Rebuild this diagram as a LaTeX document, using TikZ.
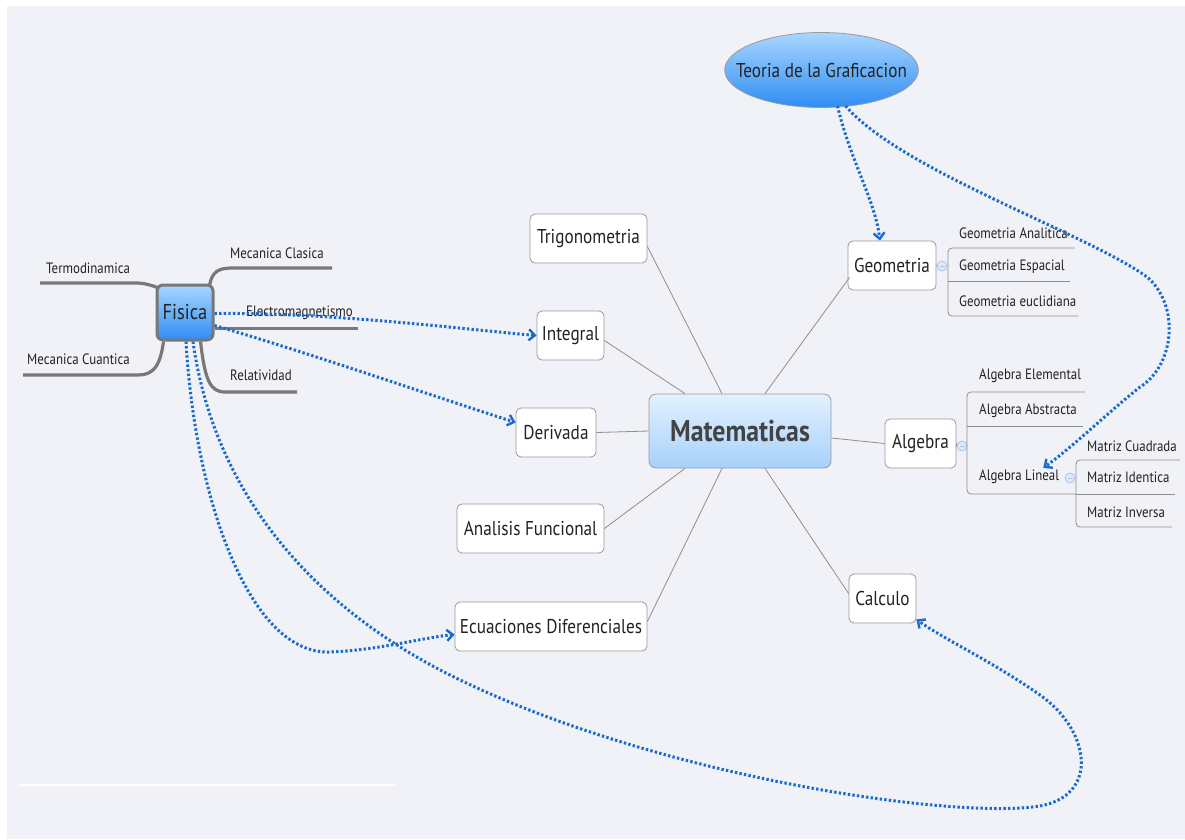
\documentclass[tikz,border=0pt]{standalone}
\usepackage{fontspec}
\setmainfont{PT Sans}[FakeStretch=0.86]
\usetikzlibrary{arrows.meta,calc,shapes.geometric}
\definecolor{bg}{HTML}{F1F2F7}
\definecolor{boxline}{HTML}{9A9A9A}
\definecolor{txt}{HTML}{222222}
\definecolor{linegray}{HTML}{8E8E8E}
\definecolor{branchgray}{HTML}{787878}
\definecolor{relblue}{HTML}{1A6BCE}
\definecolor{togline}{HTML}{A8C4EA}
\definecolor{togfill}{HTML}{DCE9FA}
\definecolor{mattop}{HTML}{E3F1FF}
\definecolor{matbot}{HTML}{A6D1FB}
\definecolor{blutop}{HTML}{A9D6FF}
\definecolor{blubot}{HTML}{2F8DF2}
\tikzset{
  box/.style={draw=boxline, fill=white, rounded corners=5pt, line width=0.8pt,
    font=\fontsize{20}{23}\selectfont, text=txt, inner sep=0pt, minimum height=49pt},
  mainbox/.style={draw=boxline, rounded corners=7pt, line width=0.8pt, top color=mattop, bottom color=matbot,
    font=\bfseries\fontsize{30}{34}\selectfont, text=txt!85, inner sep=0pt, minimum width=182pt, minimum height=74pt},
  fisbox/.style={draw=branchgray, rounded corners=6pt, line width=3pt, top color=blutop, bottom color=blubot,
    font=\fontsize{21.5}{24}\selectfont, text=txt, inner sep=0pt, minimum width=56pt, minimum height=55pt},
  teobox/.style={ellipse, draw=boxline, line width=0.8pt, top color=blutop, bottom color=blubot,
    font=\fontsize{20}{23}\selectfont, text=txt, inner xsep=-17pt, inner ysep=14pt, minimum width=193pt, minimum height=75pt},
  sub/.style={font=\fontsize{15}{18}\selectfont, text=txt, inner sep=0pt, anchor=west},
  gline/.style={draw=linegray, line width=0.8pt},
  bline/.style={draw=linegray, line width=0.8pt, rounded corners=4pt},
  branch/.style={draw=branchgray, line width=3.2pt},
  rel/.style={draw=relblue, line width=3pt, dash pattern=on 2.4pt off 2.2pt,
    -{Straight Barb[length=6pt,width=11pt,line width=2.4pt]}},
  tog/.style={circle, draw=togline, fill=togfill, minimum size=10pt, inner sep=0pt, line width=0.8pt}
}
\begin{document}
\begin{tikzpicture}[x=1pt,y=-1pt]
\fill[white] (0,0) rectangle (1185,839);
\fill[bg] (7,6) rectangle (1185,839);
\useasboundingbox (0,0) rectangle (1185,839);
\draw[white, line width=1.5pt] (20,785) -- (395,785);

% nodes
\node[mainbox] (mat) at (740,431) {Matematicas};
\node[box, minimum width=117pt] (trig) at (588.5,238.5) {Trigonometria};
\node[box, minimum width=67pt] (int) at (570.5,335.5) {Integral};
\node[box, minimum width=80pt] (deriv) at (556,432.5) {Derivada};
\node[box, minimum width=147pt] (anal) at (530.5,528.5) {Analisis Funcional};
\node[box, minimum width=192pt] (ecu) at (551,626.5) {Ecuaciones Diferenciales};
\node[box, minimum width=88pt] (geo) at (892,265.5) {Geometria};
\node[box, minimum width=71pt] (alg) at (920.5,443.5) {Algebra};
\node[box, minimum width=67pt] (calc) at (882.5,598.5) {Calculo};
\node[fisbox] (fis) at (185,312.5) {Fisica};
\node[teobox] (teo) at (821.5,70) {Teoria de la Graficacion};

% main connectors
\draw[gline] ($(mat.north)+(-18,0)$) -- ($(trig.east)+(0,8)$);
\draw[gline] ($(mat.north)+(-55,0)$) -- ($(int.east)+(0,5)$);
\draw[gline] (mat.west) -- (deriv.west -| deriv.east);
\draw[gline] ($(mat.south)+(-55,0)$) -- (anal.east);
\draw[gline] ($(mat.south)+(-18,0)$) -- ($(ecu.east)+(0,-5)$);
\draw[gline] ($(mat.north)+(25,0)$) -- ($(geo.south west)+(2,-13)$);
\draw[gline] ($(mat.east)+(0,7)$) -- (alg.west);
\draw[gline] ($(mat.south)+(25,0)$) -- ($(calc.west)+(0,-5)$);

% toggles
\node[tog] (tgeo) at (942,266) {};
\node[tog] (talg) at (962,446) {};
\node[tog] (tlin) at (1070,478) {};
\foreach \t in {tgeo,talg,tlin}{\draw[togline!80!black!60, line width=0.7pt] ($(\t.center)+(-2.5,0)$) -- ($(\t.center)+(2.5,0)$);}
\draw[gline] (geo.east) -- (tgeo.west);
\draw[gline] (alg.east) -- (talg.west);

% geometria subtopics
\draw[bline] (1075,248) -| (948,316) -- (1078,316);
\draw[gline] (948,281) -- (1070,281);
\node[sub] (ga) at (959,233) {Geometria Analitica};
\node[sub] (ge) at (959,267) {Geometria Espacial};
\node[sub] (gu) at (959,301) {Geometria euclidiana};

% algebra subtopics
\draw[bline] (1085,392) -| (967,494) -- (1076,494);
\draw[gline] (967,426) -- (1083,426);
\node[sub] (ae) at (979,376) {Algebra Elemental};
\node[sub] (aa) at (979,411) {Algebra Abstracta};
\node[sub] (alglin) at (979,477) {Algebra Lineal};
\draw[bline] (1180,460) -| (1076,527) -- (1172,527);
\draw[gline] (1076,494) -- (1175,494);
\node[sub] (mcu) at (1087,446) {Matriz Cuadrada};
\node[sub] (mid) at (1087,477) {Matriz Identica};
\node[sub] (min) at (1087,512) {Matriz Inversa};

% fisica branches
\draw[branch] ($(fis.north east)+(-5,2)$) .. controls (212,272) and (218,268) .. (232,268) -- (332,268);
\draw[branch] ($(fis.north west)+(2,4)$) .. controls (150,285) and (145,283) .. (135,283) -- (40,283);
\draw[branch] ($(fis.east)+(0,16)$) -- (358,328.5);
\draw[branch] ($(fis.south west)+(8,0)$) .. controls (160,368) and (152,375) .. (138,375) -- (23,375);
\draw[branch] ($(fis.south east)+(-14,0)$) .. controls (205,380) and (210,392) .. (225,392) -- (297,392);
\node[sub] (mclas) at (230,253) {Mecanica Clasica};
\node[sub] (termo) at (46,268) {Termodinamica};
\node[sub] (elec) at (246,313) {Electromagnetismo};
\node[sub] (mcuan) at (27,359) {Mecanica Cuantica};
\node[sub] (relat) at (230,375) {Relatividad};

% relations
\draw[rel] ($(fis.east)+(0,1)$) .. controls (330,312) and (470,330) .. (int.west);
\draw[rel] ($(fis.east)+(0,13)$) .. controls (300,350) and (430,395) .. ($(deriv.west)+(0,-10)$);
\draw[rel] ($(fis.south)+(1,0)$) .. controls (195,500) and (250,655) .. (330,652) .. controls (380,650) and (420,638) .. ($(ecu.west)+(0,8)$);
\draw[rel] ($(fis.south)+(8,0)$) .. controls (215,500) and (320,610) .. (450,675) .. controls (650,775) and (950,820) .. (1040,806) .. controls (1100,795) and (1090,730) .. (1040,695) .. controls (990,660) and (945,640) .. ($(calc.south east)+(0,-4)$);
\draw[rel] ($(teo.south)+(16,-2)$) .. controls (850,160) and (875,200) .. ($(geo.north)+(-12,0)$);
\draw[rel] ($(teo.south)+(24,-2)$) .. controls (900,170) and (1090,235) .. (1147,277) .. controls (1180,305) and (1175,365) .. (1140,387) .. controls (1105,415) and (1075,445) .. ($(alglin.north east)+(-16,-2)$);
\end{tikzpicture}
\end{document}
